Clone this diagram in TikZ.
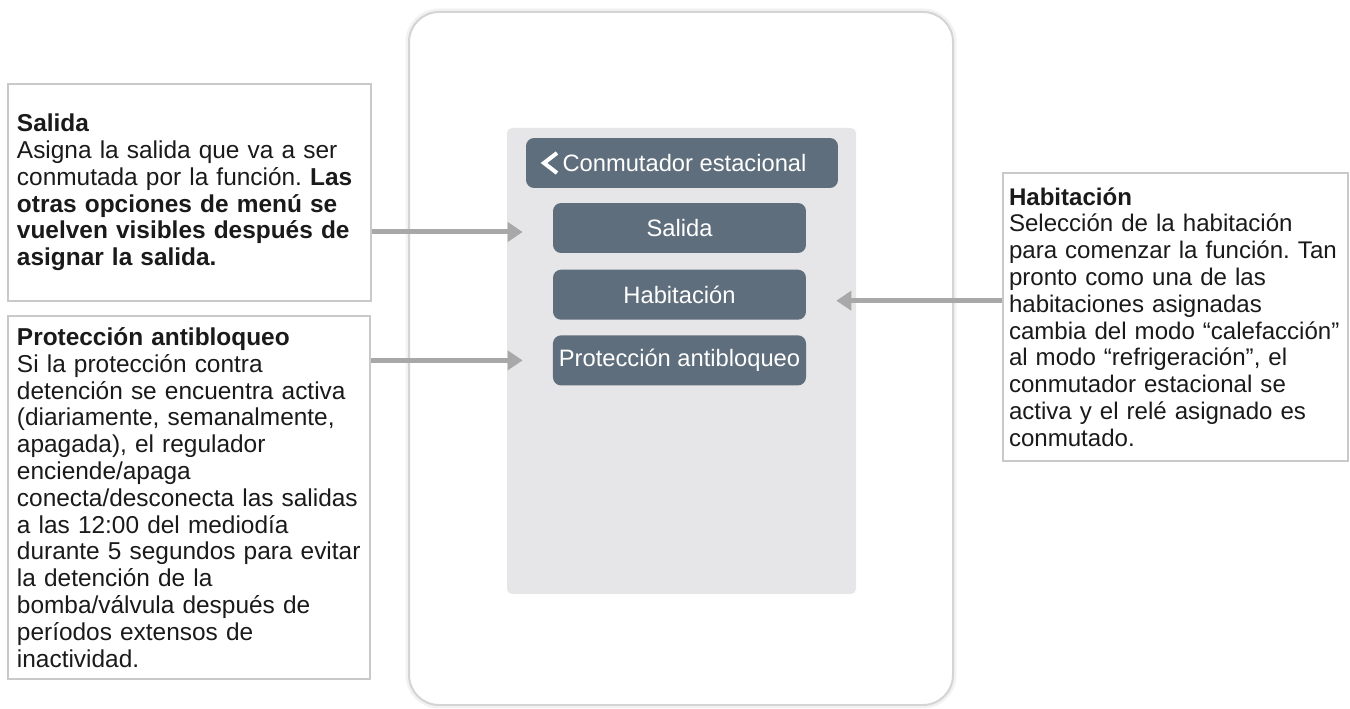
\documentclass[tikz,border=0pt]{standalone}
\usepackage{fontspec}
\setmainfont{Liberation Sans}
\usetikzlibrary{positioning,arrows.meta}
\usepackage{xcolor}
\definecolor{btngray}{HTML}{5F6E7C}
\definecolor{panelgray}{HTML}{E6E6E8}
\definecolor{arrowgray}{HTML}{A8A8A8}
\definecolor{framegray}{HTML}{C9C9C9}
\definecolor{txtgray}{HTML}{1A1A1A}
\frenchspacing
\hyphenpenalty=10000

\begin{document}
\begin{tikzpicture}[x=0.02cm,y=-0.02cm,
  infobox/.style={draw=framegray,line width=0.04cm,fill=white,align=left,anchor=north west,text=txtgray,font=\fontsize{13.9}{15.25}\selectfont},
  menubtn/.style={fill=btngray,rounded corners=0.16cm,text=white,minimum height=1cm,font=\fontsize{13.5}{15.25}\selectfont},
  callarrow/.style={-{Triangle[length=0.3cm,width=0.38cm]},line width=0.1cm,draw=arrowgray}]
\useasboundingbox (0,0) rectangle (1350,709);
% device frame and screen
\draw[line width=0.14cm,draw=black!5,rounded corners=0.6cm] (409,12) rectangle (953,705);
\draw[line width=0.04cm,draw=black!17,fill=white,rounded corners=0.6cm] (409,12) rectangle (953,705);
\fill[panelgray,rounded corners=0.1cm] (507,128) rectangle (856,594);
% menu
\node[menubtn,minimum width=6.24cm] (head) at (682,163) {\hspace*{0.1cm}Conmutador estacional};
\draw[white,line width=0.08cm] (557,153) -- (544,163) -- (557,173);
\node[menubtn,minimum width=5.06cm] (salida) at (679.5,228) {Salida};
\node[menubtn,minimum width=5.06cm,below=0.32cm of salida] (habit) {Habitación};
\node[menubtn,minimum width=5.06cm,below=0.3cm of habit] (prot) {Protección antibloqueo};
% descriptions
\node[infobox,inner xsep=0.18cm,text width=6.9cm,minimum height=4.34cm] (salbox) at (7,83)
  {\textbf{Salida}\\Asigna la salida que va a ser\\conmutada por la función. \textbf{Las}\\\textbf{otras opciones de menú se}\\\textbf{vuelven visibles después de}\\\textbf{asignar la salida.}};
\node[infobox,inner xsep=0.18cm,text width=6.88cm,minimum height=7.26cm] (protbox) at (7,315)
  {\textbf{Protección antibloqueo}\\Si la protección contra\\detención se encuentra activa\\(diariamente, semanalmente,\\apagada), el regulador\\enciende/apaga\\conecta/desconecta las salidas\\a las 12:00 del mediodía\\durante 5 segundos para evitar\\la detención de la\\bomba/válvula después de\\períodos extensos de\\inactividad.};
\node[infobox,inner xsep=0.12cm,text width=6.66cm,minimum height=5.76cm,font=\fontsize{13.7}{15.25}\selectfont] (habbox) at (1002,172)
  {\textbf{Habitación}\\Selección de la habitación\\para comenzar la función. Tan\\pronto como una de las\\habitaciones asignadas\\cambia del modo “calefacción”\\al modo “refrigeración”, el\\conmutador estacional se\\activa y el relé asignado es\\conmutado.};
% pointers
\draw[callarrow] ([yshift=-0.08cm]salida.west -| salbox.east) -- ([xshift=-0.6cm,yshift=-0.08cm]salida.west);
\draw[callarrow] ([yshift=-0.12cm]habit.east -| habbox.west) -- ([xshift=0.6cm,yshift=-0.12cm]habit.east);
\draw[callarrow] (prot.west -| protbox.east) -- ([xshift=-0.6cm]prot.west);
\end{tikzpicture}
\end{document}
